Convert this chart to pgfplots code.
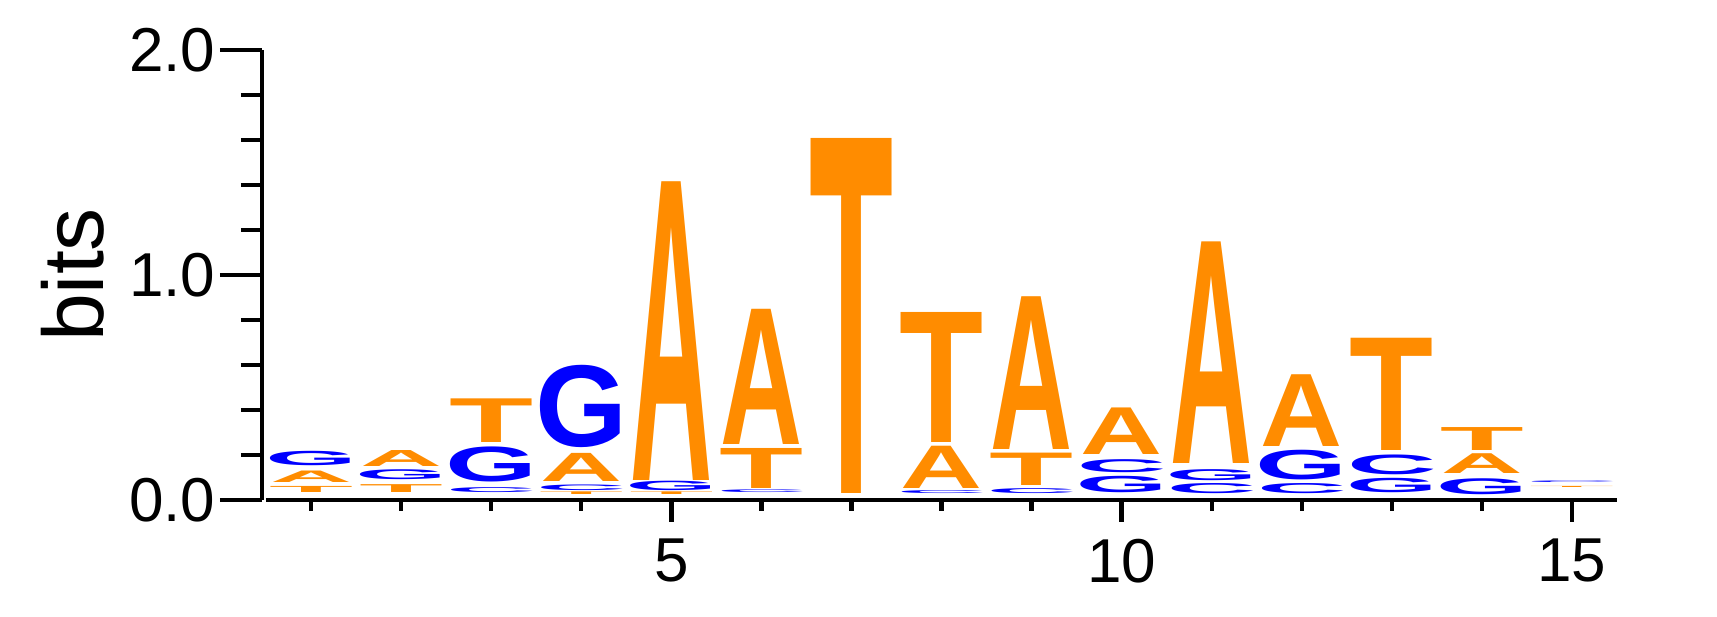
\documentclass[border=0pt]{standalone}
\usepackage{pgfplots}
\pgfplotsset{compat=1.18}
\usepackage{pgfplotstable}
\usepackage{graphicx}
\usepackage{fontspec}
\setmainfont{Liberation Sans}
\definecolor{logoorange}{HTML}{FF8C00}
\definecolor{logoblue}{HTML}{0000FF}

% columns: position, bottom of letter (bits), letter height (bits)
\pgfplotstableread{
x y0 h
1 0.077 0.051
2 0.151 0.071
4 0.080 0.125
5 0.088 1.327
6 0.248 0.601
8 0.049 0.188
9 0.225 0.679
10 0.200 0.207
11 0.161 0.985
12 0.237 0.319
14 0.119 0.088
}\tabA
\pgfplotstableread{
x y0 h
1 0.032 0.027
2 0.032 0.035
3 0.255 0.194
4 0.022 0.012
5 0.022 0.012
6 0.049 0.178
7 0.030 1.577
8 0.255 0.578
9 0.063 0.144
13 0.222 0.499
14 0.219 0.102
15 0.047 0.005
}\tabT
\pgfplotstableread{
x y0 h
1 0.151 0.064
2 0.089 0.044
3 0.081 0.156
4 0.231 0.366
5 0.040 0.042
10 0.034 0.073
11 0.088 0.049
12 0.088 0.132
13 0.034 0.064
14 0.025 0.071
}\tabG
\pgfplotstableread{
x y0 h
3 0.031 0.022
4 0.040 0.025
6 0.028 0.012
8 0.027 0.013
9 0.028 0.022
10 0.122 0.058
11 0.028 0.045
12 0.028 0.045
13 0.112 0.088
15 0.070 0.007
}\tabC

\pgfplotsset{
  logo/.style 2 args={draw=none, mark=none, color=#1,
    visualization depends on={56.25*\thisrow{h} \as \hpt},
    nodes near coords={#2},
    every node near coord/.style={anchor=south, inner sep=0pt, outer sep=0pt, text=#1}},
}

\begin{document}
\begin{tikzpicture}
\path[use as bounding box] (0,0) rectangle (429.25pt,154.25pt);
% y axis
\begin{axis}[at={(65.5pt,29.25pt)}, anchor=south west, scale only axis,
  width=337.75pt, height=112.5pt, xmin=0.5, xmax=15.5, ymin=0, ymax=2,
  axis y line*=left, axis x line=none,
  ytick={0,1,2}, minor ytick={0.2,0.4,0.6,0.8,1.2,1.4,1.6,1.8},
  tick align=outside, major tick length=10.5pt, minor tick length=5.25pt,
  every tick/.style={black, line width=1.1pt},
  y axis line style={line width=1.1pt},
  yticklabel style={font=\fontsize{15.5}{18}\selectfont, inner sep=1pt,
    /pgf/number format/.cd, fixed, fixed zerofill, precision=1, assume math mode=true},
  ylabel={bits},
  every axis y label/.style={at={(axis description cs:-0.117,0.5)}, rotate=90, anchor=base,
    font=\fontsize{21.5}{24}\selectfont},
]
\end{axis}
% x axis and logo letters
\begin{axis}[at={(66.5pt,29.25pt)}, anchor=south west, scale only axis,
  width=337.75pt, height=112.5pt, xmin=0.5, xmax=15.5, ymin=0, ymax=2,
  axis x line*=bottom, axis y line=none, clip=false,
  xtick={5,10,15}, minor xtick={1,2,3,4,6,7,8,9,11,12,13,14},
  tick align=outside, major tick length=5.5pt, minor tick length=2.75pt,
  every tick/.style={black, line width=1.1pt},
  x axis line style={line width=1.1pt},
  xticklabel style={font=\fontsize{15.5}{18}\selectfont, inner sep=0pt, yshift=-4pt,
    /pgf/number format/assume math mode=true},
]
\addplot[logo={logoorange}{\resizebox*{20.5pt}{\hpt pt}{\bfseries A}}] table[x=x, y=y0] {\tabA};
\addplot[logo={logoorange}{\resizebox*{21pt}{\hpt pt}{\bfseries T}}] table[x=x, y=y0] {\tabT};
\addplot[logo={logoblue}{\resizebox*{23pt}{\hpt pt}{\bfseries G}}] table[x=x, y=y0] {\tabG};
\addplot[logo={logoblue}{\resizebox*{22.5pt}{\hpt pt}{\bfseries C}}] table[x=x, y=y0] {\tabC};
\end{axis}
\end{tikzpicture}
\end{document}
